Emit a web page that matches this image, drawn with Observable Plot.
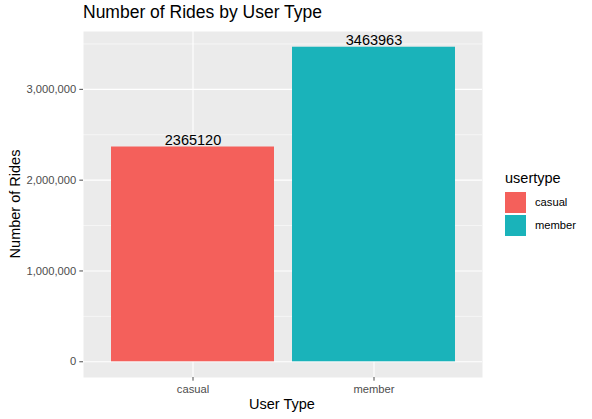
<!DOCTYPE html>
<html>
<head>
<meta charset="utf-8">
<script src="https://cdn.jsdelivr.net/npm/d3@7"></script>
<script src="https://cdn.jsdelivr.net/npm/@observablehq/plot@0.6"></script>
<style>
  html, body { margin: 0; padding: 0; background: white; }
  #wrap { position: relative; width: 592px; height: 419px; font-family: "Liberation Sans", Arial, Helvetica, sans-serif; }
  #wrap svg { position: absolute; left: 0; top: 0; }
  .abs { position: absolute; white-space: nowrap; line-height: 1; }
</style>
</head>
<body>
<div id="wrap"></div>
<script>
const userTypes = ["casual", "member"];
const rides = [2365120, 3463963];
const colors = ["#F4605B", "#1AB3BA"];
const majorTicks = [0, 1000000, 2000000, 3000000];
const minorTicks = [500000, 1500000, 2500000, 3500000];
const titleText = "Number of Rides by User Type";
const xLabel = "User Type";
const yLabel = "Number of Rides";
const legendTitle = "usertype";

const data = userTypes.map((u, i) => ({usertype: u, rides: rides[i]}));
const maxV = d3.max(rides);
const pad = maxV * 0.05;

const font = '"Liberation Sans", Arial, Helvetica, sans-serif';

const chart = Plot.plot({
  width: 592,
  height: 419,
  marginLeft: 83,
  marginRight: 110,
  marginTop: 31,
  marginBottom: 42,
  style: {fontFamily: font, background: "transparent", overflow: "visible"},
  x: {type: "band", domain: userTypes, paddingInner: 0.1, paddingOuter: 0.15, label: null},
  y: {domain: [-pad, maxV + pad], label: null},
  color: {domain: userTypes, range: colors},
  marks: [
    Plot.frame({fill: "#EBEBEB", stroke: null}),
    Plot.ruleY(minorTicks, {stroke: "white", strokeWidth: 0.55}),
    Plot.ruleY(majorTicks, {stroke: "white", strokeWidth: 1.1}),
    Plot.ruleX(userTypes, {x: d => d, stroke: "white", strokeWidth: 1.1}),
    Plot.barY(data, {x: "usertype", y: "rides", fill: "usertype"}),
    Plot.text(data, {x: "usertype", y: "rides", text: d => String(d.rides), dy: -2, lineAnchor: "bottom", fontSize: 14.5, fill: "black"}),
    Plot.axisY({ticks: majorTicks, tickFormat: d3.format(","), tickSize: 3.7, tickPadding: 3.5, fontSize: 11.2, color: "#4D4D4D", label: null}),
    Plot.axisX({tickSize: 3.7, tickPadding: 3.5, fontSize: 11.2, color: "#4D4D4D", label: null})
  ]
});

const wrap = document.getElementById("wrap");
wrap.appendChild(chart);

function addText(txt, left, top, size, color, extra) {
  const d = document.createElement("div");
  d.className = "abs";
  d.textContent = txt;
  d.style.left = left + "px";
  d.style.top = top + "px";
  d.style.fontSize = size + "px";
  d.style.color = color;
  if (extra) Object.assign(d.style, extra);
  wrap.appendChild(d);
  return d;
}

addText(titleText, 83, 4, 17.5, "black");
addText(xLabel, 282, 397, 14.5, "black", {transform: "translateX(-50%)"});
addText(yLabel, 15, 204, 14.5, "black", {transform: "translate(-50%, -50%) rotate(-90deg)"});
addText(legendTitle, 505, 171, 14.5, "black");
userTypes.forEach((u, i) => {
  const top = 192 + i * 23;
  const sw = document.createElement("div");
  sw.className = "abs";
  Object.assign(sw.style, {left: "505px", top: top + "px", width: "21px", height: "21px", background: colors[i]});
  wrap.appendChild(sw);
  addText(u, 535, top + 4.5, 11.2, "black");
});
</script>
</body>
</html>
